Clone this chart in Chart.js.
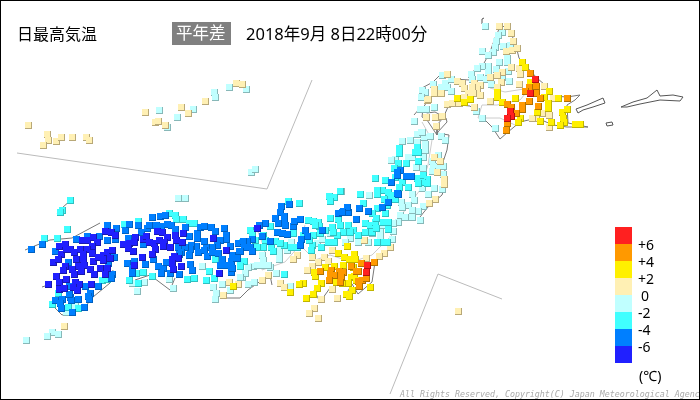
<!DOCTYPE html>
<html>
<head>
<meta charset="utf-8">
<style>
  html, body { margin: 0; padding: 0; background: #fff; }
  canvas { display: block; }
</style>
<script src="https://cdn.jsdelivr.net/npm/chart.js@4"></script>
</head>
<body>
<canvas id="map" width="700" height="400"></canvas>
<script>
// stations per anomaly band, in map grid units
const bandRed = [[367,265],[366,272],[535,79],[530,93],[510,111],[511,116],[507,118]];
const bandOrange = [[361,263],[374,262],[351,266],[320,271],[331,270],[339,271],[343,272],[330,274],[334,275],[341,277],[329,280],[340,282],[356,271],[358,271],[358,281],[362,280],[366,278],[359,286],
  [530,73],[536,86],[529,87],[525,91],[536,93],[540,98],[529,101],[567,98],[507,104],[511,107],[522,105],[522,109],[516,113],[538,106],[507,123],[506,130]];
const bandYellow = [[233,286],[347,246],[338,253],[344,257],[354,254],[349,259],[355,259],[343,265],[334,266],[325,267],[314,272],[315,276],[353,267],[351,277],[354,276],[348,283],[342,283],[336,282],[321,283],[317,288],[313,294],[306,298],[303,283],[299,284],[290,292],[346,294],[352,290],[349,296],[370,287],[356,280],
  [522,62],[525,67],[530,82],[549,91],[544,97],[558,98],[497,92],[497,97],[515,98],[502,102],[457,98],[464,102],[470,99],[548,103],[548,108],[537,112],[540,121],[562,112],[567,109],[563,118],[551,122],[564,122],[560,125],[575,124],[580,124],[520,118],[518,122]];
const bandCream = [[64,326],[223,295],[229,282],[238,284],[364,240],[332,250],[297,255],[293,259],[312,257],[324,257],[328,261],[318,262],[312,266],[307,270],[268,275],[262,280],[280,283],[284,287],[332,289],[337,298],[321,299],[314,308],[309,313],[318,318],[390,247],[384,253],[379,256],[366,258],
  [427,100],[447,104],[452,103],[426,117],[436,117],[442,116],[436,126],[434,157],[440,161],[437,172],[444,179],[444,184],[435,199],[429,203],
  [499,26],[507,26],[511,33],[513,41],[506,51],[512,50],[517,48],[511,67],[519,68],[520,74],[502,72],[497,75],[490,77],[447,74],[457,81],[462,83],[464,88],[474,83],[480,85],[477,89],[472,87],[468,93],[473,93],[480,95],[501,82],[497,87],[519,84],[434,89],[434,93],[441,93],[428,99],[459,103],[464,97],[474,107],[490,101],[435,117],[544,86],[553,98],[549,115],[542,113],[536,118],[532,118],[549,127],
  [28,125],[47,134],[48,140],[43,145],[56,141],[61,137],[72,137],[86,137],[89,140],[145,112],[155,122],[158,121],[165,125],[181,107],[188,113],[205,101],[236,83],[242,84],[458,311]];
const bandPale = [[178,198],[185,198],[132,283],[144,282],[137,291],[169,279],[173,288],[202,266],[213,287],[222,284],[216,293],[215,299],[230,290],[75,306],[66,312],[52,332],[47,336],[58,334],[26,340],
  [317,243],[322,239],[330,233],[350,238],[358,242],[368,242],[372,233],[380,232],[382,225],[393,223],[398,222],[392,239],[393,231],[279,250],[287,250],[279,255],[279,259],[262,255],[263,260],[253,266],[248,267],[270,267],[257,265],[242,277],[248,284],[254,282],[276,273],[290,286],[380,237],[345,242],[291,242],[262,265],[268,265],[245,273],[240,277],
  [420,109],[434,107],[414,121],[421,132],[417,134],[424,137],[430,136],[441,136],[445,140],[402,141],[410,140],[417,142],[425,144],[425,150],[438,155],[395,159],[391,160],[408,157],[412,157],[423,157],[432,161],[433,166],[416,167],[423,168],[437,167],[443,166],[432,171],[443,174],[434,188],[442,189],[422,188],[428,194],[412,194],[369,195],[341,191],[401,202],[414,200],[408,205],[402,207],[423,206],[418,211],[412,210],[400,215],[405,217],[412,217],[393,223],[420,220],
  [485,26],[502,32],[498,35],[496,41],[495,47],[482,51],[493,52],[488,55],[503,46],[510,45],[507,58],[499,62],[507,62],[488,66],[482,66],[477,68],[496,69],[488,72],[508,71],[480,77],[471,74],[472,79],[486,79],[491,84],[502,77],[509,81],[442,75],[433,84],[445,83],[451,79],[441,87],[447,87],[451,91],[422,90],[425,92],[421,97],[421,109],[426,109],[476,111],[482,118],[495,128],[422,132],
  [159,110],[167,127],[177,117],[193,109],[214,92],[215,97],[229,87],[246,89],[251,172],[255,169]];
const bandCyan = [[44,238],[57,238],[67,229],[70,200],[62,210],[60,212],[124,224],[138,221],[169,213],[175,215],[176,219],[183,219],[189,223],[194,223],[102,280],[107,279],[58,293],[52,304],[68,307],[78,308],[136,273],[143,272],[152,276],[129,280],[187,279],[194,278],[206,280],[214,278],[215,259],[209,271],[240,266],[138,283],
  [288,201],[299,203],[329,196],[334,197],[330,201],[340,191],[250,230],[270,226],[308,220],[313,221],[318,222],[319,226],[330,218],[338,219],[332,227],[340,225],[348,225],[365,223],[370,225],[375,222],[383,222],[388,222],[353,230],[358,235],[365,232],[372,232],[376,228],[388,229],[328,242],[334,242],[312,245],[311,250],[321,247],[275,241],[271,247],[273,251],[263,247],[257,247],[240,262],[244,261],[240,266],[284,245],[291,247],[284,274],[297,247],[381,242],[377,242],[387,242],[343,232],[350,232],[337,235],[320,233],[315,225],[325,230],[333,232],[313,235],[309,240],[303,235],[293,233],[263,235],[252,233],[242,242],[255,240],[265,240],[280,243],
  [399,148],[399,153],[417,147],[415,152],[418,152],[398,163],[406,163],[418,161],[394,168],[375,178],[385,180],[395,177],[417,178],[423,175],[427,179],[422,182],[427,183],[418,183],[402,182],[399,187],[408,187],[382,190],[377,190],[377,194],[388,192],[390,195],[395,195],[360,194],[384,199],[391,199],[395,199],[363,203],[387,205],[377,208],[372,213],[376,218],[385,213]];
const bandBlue = [[31,249],[42,244],[55,251],[76,239],[87,236],[99,236],[107,225],[107,240],[116,228],[115,239],[114,257],[108,263],[68,262],[112,274],[111,278],[98,286],[85,286],[90,293],[88,296],[89,299],[78,299],[84,307],[72,312],[70,297],[71,300],[69,294],[69,286],[55,300],[62,299],[60,303],[61,308],
  [125,230],[129,224],[138,225],[141,232],[147,228],[149,225],[152,217],[160,216],[165,215],[156,225],[161,226],[167,224],[171,225],[175,229],[128,238],[143,244],[127,263],[134,261],[132,268],[132,273],[145,264],[153,259],[158,266],[163,268],[161,273],[166,262],[170,273],[179,274],[185,227],[189,236],[197,233],[197,238],[200,227],[204,226],[211,227],[215,231],[224,228],[226,235],[226,239],[220,240],[217,245],[212,247],[206,247],[204,241],[196,246],[191,245],[190,249],[185,247],[178,247],[181,252],[179,254],[189,255],[198,252],[204,250],[207,256],[212,252],[218,253],[232,255],[238,243],[230,246],[222,259],[220,265],[225,265],[231,261],[236,258],[231,266],[231,272],[190,264],[192,270],[239,251],
  [281,206],[289,204],[280,212],[284,216],[275,218],[284,221],[278,223],[285,225],[293,226],[294,221],[300,219],[265,223],[259,225],[277,232],[282,233],[287,234],[270,241],[262,236],[252,239],[247,241],[243,241],[244,247],[240,251],[250,247],[252,251],[237,258],[232,268],[305,230],[307,236],[301,239],[300,245],[322,230],[338,213],[343,211],[348,212],[347,207],[356,219],[368,211],[382,207],[388,202],[397,193],
  [400,170],[397,172],[397,175],[406,176],[411,176],[391,182],[398,194],[359,208],[342,212]];
const bandDeep = [[59,246],[65,244],[61,254],[66,249],[70,249],[74,252],[80,249],[82,240],[87,240],[93,237],[97,242],[92,246],[87,249],[83,254],[92,253],[76,259],[83,259],[78,266],[84,265],[93,261],[98,257],[103,255],[107,252],[112,250],[110,258],[103,260],[53,262],[58,259],[65,266],[63,270],[72,269],[81,271],[90,269],[100,268],[107,268],[94,274],[105,274],[74,274],[56,276],[66,279],[59,282],[75,282],[79,284],[91,284],[48,284],[59,289],[64,288],[73,287],[77,290],[105,231],[111,232],[115,235],
  [123,244],[129,243],[128,248],[133,251],[135,237],[134,242],[143,239],[146,236],[149,242],[154,243],[159,240],[157,231],[162,232],[167,237],[164,242],[163,246],[170,247],[155,249],[152,254],[142,257],[134,265],[175,235],[176,240],[183,233],[182,242],[213,238],[174,256],[172,259],[178,258],[172,263],[181,266],[173,269],[219,273],[226,250],[257,228]];

// coast and border outlines
const coastHokkaido = [[495,38],[500,27],[507,26],[515,42],[519,58],[525,65],[537,78],[545,85],[553,96],[567,97],[580,95],[575,100],[567,105],[568,123],[588,127],[567,127],[553,125],[537,118],[520,122],[508,132],[500,139],[492,127],[477,112],[470,106],[460,105],[448,107],[443,118],[437,125],[437,135],[427,120],[422,117],[423,108],[428,100],[422,88],[433,82],[442,73],[453,79],[470,80],[472,72],[483,65],[490,52],[495,38]];
const coastRebun = [[482,24],[482,19],[484,18]];
const coastEtorofu = [[621,107],[633,102],[647,98],[657,90],[660,96],[673,95],[683,97],[680,101],[660,100],[640,104],[627,107],[621,107]];
const coastKunashiri = [[576,109],[587,105],[603,98],[605,103],[593,107],[583,110],[578,113],[576,109]];
const coastShikotan = [[606,123],[612,122],[613,125],[607,126],[606,123]];
const coastTohoku = [[414,115],[420,108],[427,113],[435,112],[446,118],[447,122],[437,133],[449,135],[447,150],[443,162],[447,180],[442,195],[428,207],[420,217]];
const coastKanto = [[392,245],[375,262],[372,282],[358,294],[352,284],[345,296]];
const coastIzu = [[330,288],[320,302],[314,290]];
const coastKii = [[272,285],[270,275],[262,280],[248,290],[240,298],[222,298],[212,285]];
const coastKyushu = [[25,250],[37,245],[50,240],[72,238],[100,223]];
const coastKyushuSouth = [[113,270],[110,283],[93,297],[85,307],[62,315],[50,303]];
const coastGoto = [[42,287],[48,285]];
const coastShikoku = [[175,278],[170,290],[150,275],[135,280]];
const coastTsushima = [[57,214],[62,208],[72,199]];
const borderHokkaido = [[490,88],[505,92],[530,88],[520,100],[497,105],[482,105],[478,118],[500,118],[515,125]];
const borderKanto = [[300,245],[315,260],[330,255],[352,262],[372,255],[395,232]];
const borderChubu = [[258,232],[265,250],[262,270],[285,262],[300,245],[305,225]];
const borderTohoku = [[422,122],[432,140],[428,165],[420,190],[405,210],[395,225]];
const insetNorth = [[17,153],[267,189],[312,80]];
const insetSouth = [[502,299],[438,274],[390,394]];

const legendColors = ['#ff2020','#ff9900','#fff000','#fff0b4','#c0ffff','#40ffff','#007fff','#2020ff'];
const legendTicks = ['+6','+4','+2','0','-2','-4','-6'];

// square station mark with a darker lower right edge
function stationMark(face, edge) {
  const c = document.createElement('canvas');
  c.width = 8;
  c.height = 8;
  const g = c.getContext('2d');
  g.fillStyle = edge;
  g.fillRect(1, 1, 7, 7);
  g.fillStyle = face;
  g.fillRect(1, 1, 6, 6);
  return c;
}

function stations(points, face, edge) {
  return {
    data: points.map(p => ({x: p[0], y: p[1]})),
    pointStyle: stationMark(face, edge),
    showLine: false
  };
}

function outline(points, color) {
  return {
    data: points.map(p => ({x: p[0], y: p[1]})),
    showLine: true,
    pointRadius: 0,
    borderColor: color,
    borderWidth: 1,
    tension: 0
  };
}

const labelsPlugin = {
  id: 'labels',
  afterDatasetsDraw(chart) {
    const c = chart.ctx;
    c.save();
    c.textBaseline = 'alphabetic';
    c.fillStyle = '#000';
    c.font = '16px "Noto Sans CJK JP"';
    c.fillText('日最高気温', 17, 40);
    c.fillStyle = '#808080';
    c.fillRect(172, 22, 59, 23);
    c.fillStyle = '#fff';
    c.font = '16.5px "Noto Sans CJK JP"';
    c.fillText('平年差', 176, 39);
    c.fillStyle = '#000';
    c.font = '16.5px "Noto Sans", "Noto Sans CJK JP"';
    c.fillText('2018年9月 8日22時00分', 246, 40);

    // colour key
    legendColors.forEach((col, i) => {
      c.fillStyle = col;
      c.fillRect(615, 227 + i * 17, 17, 17);
    });
    c.fillStyle = '#000';
    c.font = '14px "Noto Sans"';
    c.textAlign = 'left';
    legendTicks.forEach((t, i) => {
      c.fillText(t, t === '0' ? 641 : 638, 250 + i * 17);
    });
    c.font = '14px "Noto Sans", "Noto Sans CJK JP"';
    c.fillText('(℃)', 639, 381);

    c.fillStyle = '#aaa';
    c.font = 'italic 8.3px "DejaVu Sans Mono"';
    c.fillText('All Rights Reserved, Copyright(C) Japan Meteorological Agency', 400, 397);

    c.strokeStyle = '#000';
    c.lineWidth = 2;
    c.strokeRect(0, 0, 700, 400);
    c.restore();
  }
};

new Chart(document.getElementById('map'), {
  type: 'scatter',
  data: {
    datasets: [
      stations(bandRed, legendColors[0], '#b01010'),
      stations(bandDeep, legendColors[7], '#1818b0'),
      stations(bandOrange, legendColors[1], '#b07000'),
      stations(bandBlue, legendColors[6], '#0060c0'),
      stations(bandYellow, legendColors[2], '#c0b400'),
      stations(bandCyan, legendColors[5], '#30c0c0'),
      stations(bandCream, legendColors[3], '#b8a878'),
      stations(bandPale, legendColors[4], '#88b8b8'),
      outline(coastHokkaido, '#777'),
      outline(coastRebun, '#555'),
      outline(coastEtorofu, '#555'),
      outline(coastKunashiri, '#555'),
      outline(coastShikotan, '#555'),
      outline(coastTohoku, '#777'),
      outline(coastKanto, '#777'),
      outline(coastIzu, '#777'),
      outline(coastKii, '#777'),
      outline(coastKyushu, '#777'),
      outline(coastKyushuSouth, '#777'),
      outline(coastGoto, '#777'),
      outline(coastShikoku, '#777'),
      outline(coastTsushima, '#777'),
      outline(borderHokkaido, '#ccc'),
      outline(borderKanto, '#ccc'),
      outline(borderChubu, '#ccc'),
      outline(borderTohoku, '#ccc'),
      outline(insetNorth, '#bbb'),
      outline(insetSouth, '#bbb')
    ]
  },
  options: {
    responsive: false,
    animation: false,
    layout: { padding: 0, autoPadding: false },
    scales: {
      x: { type: 'linear', min: 0, max: 700, display: false },
      y: { type: 'linear', min: 0, max: 400, reverse: true, display: false }
    },
    plugins: { legend: { display: false }, tooltip: { enabled: false } }
  },
  plugins: [labelsPlugin]
});
</script>
</body>
</html>
